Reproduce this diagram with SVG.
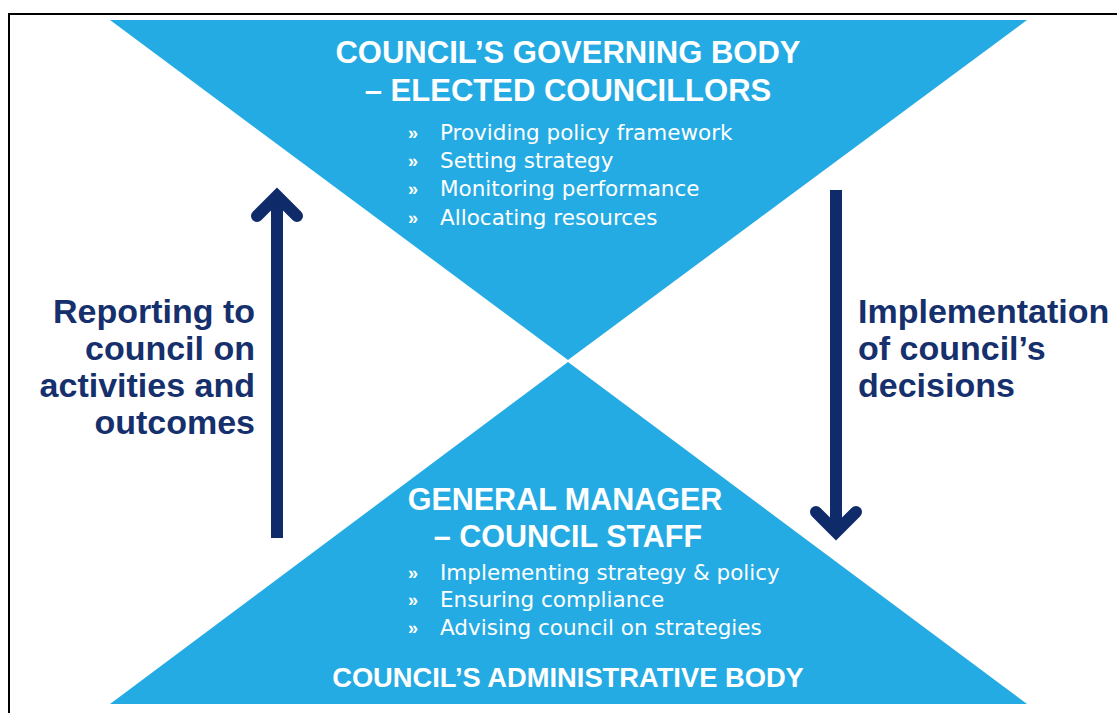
<svg xmlns="http://www.w3.org/2000/svg" width="1117" height="713" viewBox="0 0 1117 713">
<style>
.tri{fill:#25abe3}
.head{font-family:"Liberation Sans",Arial,sans-serif;font-weight:bold;fill:#fff;text-anchor:middle}
.bul{font-family:"DejaVu Sans","Liberation Sans",sans-serif;font-size:21.5px;fill:#fff}
.mk{font-family:"Liberation Sans",Arial,sans-serif;font-size:18px;font-weight:bold;fill:#fff}
.side{font-family:"Liberation Sans",Arial,sans-serif;font-weight:bold;font-size:34px;fill:#15306c}
.arr{stroke:#0f2b69;fill:none;stroke-width:12}
</style>
<rect x="0" y="0" width="1117" height="713" fill="#fff"/>
<rect x="9" y="14" width="1120" height="710" fill="none" stroke="#000" stroke-width="2"/>
<g id="governing-body">
<polygon class="tri" points="110,20 1027,20 568,360"/>
<text class="head" x="568" y="63" font-size="31">COUNCIL’S GOVERNING BODY</text>
<text class="head" x="568" y="101" font-size="31">– ELECTED COUNCILLORS</text>
<text class="mk" x="408" y="139">»</text>
<text class="mk" x="408" y="167">»</text>
<text class="mk" x="408" y="195">»</text>
<text class="mk" x="408" y="224">»</text>
<text class="bul" x="440" y="140">Providing policy framework</text>
<text class="bul" x="440" y="168">Setting strategy</text>
<text class="bul" x="440" y="196">Monitoring performance</text>
<text class="bul" x="440" y="225">Allocating resources</text>
</g>
<g id="administrative-body">
<polygon class="tri" points="568,362 110,704 1027,704"/>
<text class="head" x="565" y="510" font-size="30.5">GENERAL MANAGER</text>
<text class="head" x="568" y="547" font-size="30.5">– COUNCIL STAFF</text>
<text class="mk" x="408" y="579">»</text>
<text class="mk" x="408" y="606">»</text>
<text class="mk" x="408" y="634">»</text>
<text class="bul" x="440" y="580">Implementing strategy &amp; policy</text>
<text class="bul" x="440" y="607">Ensuring compliance</text>
<text class="bul" x="440" y="635">Advising council on strategies</text>
<text class="head" x="568" y="687" font-size="27.3">COUNCIL’S ADMINISTRATIVE BODY</text>
</g>
<g id="reporting-label">
<text class="side" text-anchor="end" x="255" y="323">Reporting to</text>
<text class="side" text-anchor="end" x="255" y="360">council on</text>
<text class="side" text-anchor="end" x="255" y="397">activities and</text>
<text class="side" text-anchor="end" x="255" y="434">outcomes</text>
</g>
<g id="implementation-label">
<text class="side" x="858" y="323">Implementation</text>
<text class="side" x="858" y="360">of council’s</text>
<text class="side" x="858" y="397">decisions</text>
</g>
<g id="connectors">
<path class="arr" d="M277,538 V198"/>
<path class="arr" d="M257,216 L277,196 L297,216" stroke-linecap="round" stroke-linejoin="miter" stroke-width="13"/>
<path class="arr" d="M836,190 V530"/>
<path class="arr" d="M816,512 L836,532 L856,512" stroke-linecap="round" stroke-linejoin="miter" stroke-width="13"/>
</g>
</svg>
